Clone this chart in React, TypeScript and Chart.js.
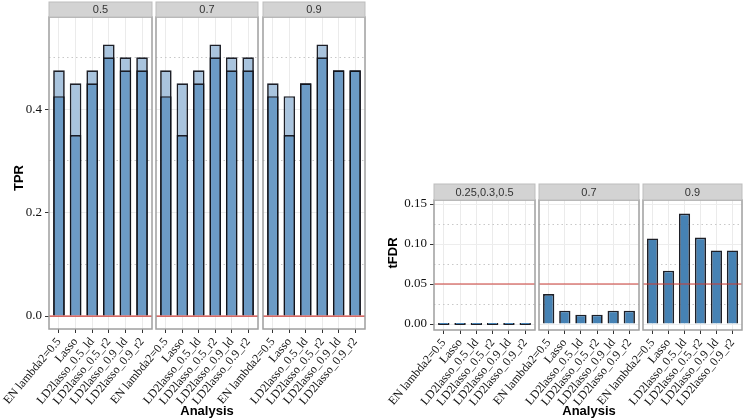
import React, { useEffect, useRef } from 'react';
import { Chart, registerables } from 'chart.js';

Chart.register(...registerables);

// ---------- data ----------
const categories = [
  'EN lambda2=0.5',
  'Lasso',
  'LD2lasso_0.5_ld',
  'LD2lasso_0.5_r2',
  'LD2lasso_0.9_ld',
  'LD2lasso_0.9_r2',
];
const positions = [1, 2, 3, 4, 5, 6];

const tprFacetLabels = ['0.5', '0.7', '0.9'];
const tprUpper_05 = [0.475, 0.45, 0.475, 0.525, 0.5, 0.5];
const tprLower_05 = [0.425, 0.35, 0.45, 0.5, 0.475, 0.475];
const tprUpper_07 = [0.475, 0.45, 0.475, 0.525, 0.5, 0.5];
const tprLower_07 = [0.425, 0.35, 0.45, 0.5, 0.475, 0.475];
const tprUpper_09 = [0.45, 0.425, 0.45, 0.525, 0.475, 0.475];
const tprLower_09 = [0.425, 0.35, 0.45, 0.5, 0.475, 0.475];

const fdrFacetLabels = ['0.25,0.3,0.5', '0.7', '0.9'];
const fdr_low = [0, 0, 0, 0, 0, 0];
const fdr_07 = [0.0375, 0.0167, 0.0117, 0.0117, 0.0167, 0.0167];
const fdr_09 = [0.107, 0.0667, 0.138, 0.108, 0.092, 0.092];

const tprTicks = [0, 0.1, 0.2, 0.3, 0.4, 0.5];
const tprTickLabels = ['0.0', '', '0.2', '', '0.4', ''];
const fdrTicks = [0, 0.025, 0.05, 0.075, 0.1, 0.125, 0.15];
const fdrTickLabels = ['0.00', '', '0.05', '', '0.10', '', '0.15'];

const tprRef = 0;
const fdrRef = 0.05;

// ---------- styling ----------
const W = 747;
const H = 420;
const DARK = '#6c9bc6';
const LIGHT = '#a9c4de';
const SOLID = '#4682b4';
const BAR_BORDER = 'rgba(18,20,28,0.95)';
const TITLE_FONT = 'bold 13px "Liberation Sans", Arial, sans-serif';

type Series = { values: number[]; color: string };
type FacetSpec = {
  strip: string;
  series: Series[];
  yMin: number;
  yMax: number;
  yTicks: number[];
  yTickLabels: string[];
  panelLeft: number;
  panelRight: number;
  panelTop: number;
  panelBottom: number;
  stripHeight: number;
  yAxisWidth: number;
  showY: boolean;
  yTitle?: string;
  yTitleX?: number;
  yTitleY?: number;
  xTitle?: string;
  refLine: number;
  minBarLength: number;
};

const facetPlugin = {
  id: 'facet',
  afterDatasetsDraw(chart: any, _args: any, o: any) {
    const { ctx, chartArea: a, scales } = chart;
    const y = scales.y.getPixelForValue(o.refLine);
    ctx.save();
    ctx.strokeStyle = '#cc3d36';
    ctx.lineWidth = 1.2;
    ctx.beginPath();
    ctx.moveTo(a.left, y);
    ctx.lineTo(a.right, y);
    ctx.stroke();
    ctx.restore();
  },
  afterDraw(chart: any, _args: any, o: any) {
    const { ctx, chartArea: a } = chart;
    const sh = o.stripHeight;
    ctx.save();
    ctx.strokeStyle = '#9f9f9f';
    ctx.lineWidth = 1.5;
    ctx.strokeRect(a.left, a.top, a.right - a.left, a.bottom - a.top);
    ctx.fillStyle = '#d3d3d3';
    ctx.fillRect(a.left, a.top - sh, a.right - a.left, sh);
    ctx.strokeStyle = '#bdbdbd';
    ctx.lineWidth = 1;
    ctx.strokeRect(a.left, a.top - sh, a.right - a.left, sh);
    ctx.fillStyle = '#333333';
    ctx.font = '11px "Liberation Sans", Arial, sans-serif';
    ctx.textAlign = 'center';
    ctx.textBaseline = 'middle';
    ctx.fillText(o.strip, (a.left + a.right) / 2, a.top - sh / 2 + 0.5);
    if (o.yTitle) {
      ctx.translate(o.yTitleX, o.yTitleY);
      ctx.rotate(-Math.PI / 2);
      ctx.fillStyle = '#000000';
      ctx.font = TITLE_FONT;
      ctx.fillText(o.yTitle, 0, 0);
    }
    ctx.restore();
  },
};

function buildConfig(f: FacetSpec): any {
  const isMinor = (i: number) => f.yTickLabels[i] === '';
  return {
    type: 'bar',
    data: {
      datasets: f.series.map((s) => ({
        data: positions.map((p, i) => ({ x: p, y: s.values[i] })),
        backgroundColor: s.color,
        borderColor: BAR_BORDER,
        borderWidth: 1.7,
        barPercentage: 0.7,
        categoryPercentage: 1,
        minBarLength: f.minBarLength,
      })),
    },
    options: {
      responsive: false,
      animation: false,
      devicePixelRatio: 1,
      events: [],
      layout: {
        padding: {
          left: f.panelLeft - f.yAxisWidth,
          right: W - f.panelRight,
          top: f.panelTop,
          bottom: 0,
        },
      },
      plugins: {
        legend: { display: false },
        tooltip: { enabled: false },
        title: { display: false },
        facet: {
          strip: f.strip,
          stripHeight: f.stripHeight,
          refLine: f.refLine,
          yTitle: f.yTitle,
          yTitleX: f.yTitleX,
          yTitleY: f.yTitleY,
        },
      },
      scales: {
        x: {
          type: 'linear',
          min: 0.4,
          max: 6.6,
          offset: false,
          stacked: true,
          afterBuildTicks: (s: any) => {
            s.ticks = positions.map((v) => ({ value: v }));
          },
          afterFit: (s: any) => {
            s.height = H - f.panelBottom;
            s.paddingLeft = 0;
            s.paddingRight = 0;
          },
          ticks: {
            autoSkip: false,
            minRotation: 50,
            maxRotation: 50,
            padding: 2,
            color: '#111111',
            font: { family: '"Liberation Serif", "Times New Roman", serif', size: 12 },
            callback: (v: number) => {
              const k = positions.indexOf(v);
              return k >= 0 ? categories[k] : '';
            },
          },
          grid: {
            color: '#ebebeb',
            lineWidth: 1,
            offset: false,
            drawTicks: true,
            tickLength: 4,
            tickColor: '#333333',
          },
          border: { display: false },
          title: f.xTitle
            ? {
                display: true,
                text: f.xTitle,
                color: '#000000',
                font: { family: '"Liberation Sans", Arial, sans-serif', size: 13, weight: 'bold' },
                padding: { top: 0, bottom: 1 },
              }
            : { display: false },
        },
        y: {
          min: f.yMin,
          max: f.yMax,
          stacked: false,
          afterBuildTicks: (s: any) => {
            s.ticks = f.yTicks.map((v) => ({ value: v }));
          },
          afterFit: (s: any) => {
            s.width = f.yAxisWidth;
            s.paddingTop = 0;
            s.paddingBottom = 0;
          },
          ticks: {
            display: f.showY,
            padding: 3,
            color: '#111111',
            font: { family: '"Liberation Serif", "Times New Roman", serif', size: 13 },
            callback: (_v: number, i: number) => f.yTickLabels[i],
          },
          grid: {
            drawTicks: f.showY,
            tickLength: 4,
            lineWidth: 1,
            color: (c: any) => (isMinor(c.index) ? '#c8c8c8' : '#ededed'),
            tickColor: (c: any) => (isMinor(c.index) ? 'rgba(0,0,0,0)' : '#333333'),
          },
          border: {
            display: false,
            dash: (c: any) => (isMinor(c.index) ? [1.5, 3] : []),
          },
          title: { display: false },
        },
      },
    },
    plugins: [facetPlugin],
  };
}

// ---------- facet layout ----------
const tprPanels = [
  [49, 152],
  [156, 258],
  [263, 365],
];
const fdrPanels = [
  [434, 535],
  [539, 639],
  [643, 742],
];
const tprSeries: Series[][] = [
  [
    { values: tprLower_05, color: DARK },
    { values: tprUpper_05, color: LIGHT },
  ],
  [
    { values: tprLower_07, color: DARK },
    { values: tprUpper_07, color: LIGHT },
  ],
  [
    { values: tprLower_09, color: DARK },
    { values: tprUpper_09, color: LIGHT },
  ],
];
const fdrSeries: Series[][] = [
  [{ values: fdr_low, color: SOLID }],
  [{ values: fdr_07, color: SOLID }],
  [{ values: fdr_09, color: SOLID }],
];

const specs: FacetSpec[] = [
  ...tprPanels.map((p, i) => ({
    strip: tprFacetLabels[i],
    series: tprSeries[i],
    yMin: -0.025,
    yMax: 0.578,
    yTicks: tprTicks,
    yTickLabels: tprTickLabels,
    panelLeft: p[0],
    panelRight: p[1],
    panelTop: 17,
    panelBottom: 329,
    stripHeight: 15,
    yAxisWidth: i === 0 ? 49 : 0,
    showY: i === 0,
    yTitle: i === 0 ? 'TPR' : undefined,
    yTitleX: 19,
    yTitleY: 178,
    xTitle: i === 1 ? 'Analysis' : undefined,
    refLine: tprRef,
    minBarLength: 0,
  })),
  ...fdrPanels.map((p, i) => ({
    strip: fdrFacetLabels[i],
    series: fdrSeries[i],
    yMin: -0.0075,
    yMax: 0.155,
    yTicks: fdrTicks,
    yTickLabels: fdrTickLabels,
    panelLeft: p[0],
    panelRight: p[1],
    panelTop: 200,
    panelBottom: 330,
    stripHeight: 16,
    yAxisWidth: i === 0 ? 64 : 0,
    showY: i === 0,
    yTitle: i === 0 ? 'tFDR' : undefined,
    yTitleX: 393,
    yTitleY: 253,
    xTitle: i === 1 ? 'Analysis' : undefined,
    refLine: fdrRef,
    minBarLength: 2,
  })),
];

function FacetChart({ spec }: { spec: FacetSpec }) {
  const ref = useRef<HTMLCanvasElement | null>(null);
  useEffect(() => {
    if (!ref.current) return;
    const chart = new Chart(ref.current, buildConfig(spec));
    return () => chart.destroy();
  }, [spec]);
  return (
    <canvas
      ref={ref}
      width={W}
      height={H}
      style={{ position: 'absolute', left: 0, top: 0, width: W, height: H }}
    />
  );
}

export default function App() {
  return (
    <div
      style={{
        position: 'absolute',
        left: 0,
        top: 0,
        width: W,
        height: H,
        background: '#ffffff',
        overflow: 'hidden',
      }}
    >
      {specs.map((s, i) => (
        <FacetChart key={i} spec={s} />
      ))}
    </div>
  );
}
